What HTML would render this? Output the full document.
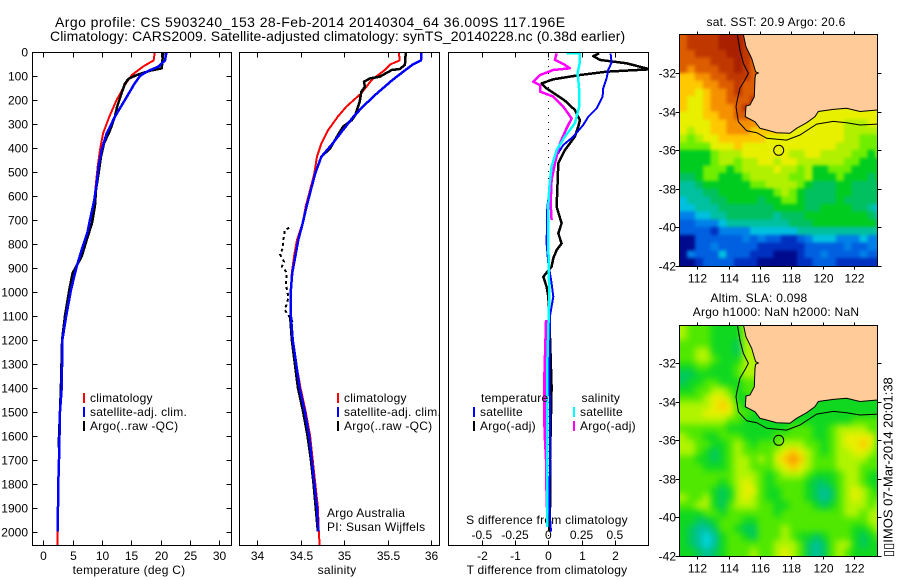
<!DOCTYPE html>
<html>
<head>
<meta charset="utf-8">
<title>Argo profile</title>
<style>
html,body{margin:0;padding:0;background:#fff;}
svg{display:block;font-family:"Liberation Sans",sans-serif;font-size:12px;fill:#000;}
.ls{letter-spacing:.25px;}
</style>
</head>
<body>
<svg id="chart" xmlns="http://www.w3.org/2000/svg" width="900" height="580" viewBox="0 0 900 580">
<defs>
<clipPath id="clip-t"><rect x="32.5" y="52" width="199" height="493"/></clipPath>
<clipPath id="clip-s"><rect x="239.5" y="52" width="200" height="493"/></clipPath>
<clipPath id="clip-d"><rect x="448.5" y="52" width="200" height="493"/></clipPath>
<clipPath id="clip-m1"><rect x="679.5" y="34.5" width="198" height="232"/></clipPath>
<clipPath id="clip-m2"><rect x="679.5" y="325" width="198" height="232"/></clipPath>
<filter id="soft-sst" filterUnits="userSpaceOnUse" x="660" y="20" width="240" height="260" color-interpolation-filters="sRGB">
<feGaussianBlur stdDeviation="1.5"/>
<feComponentTransfer><feFuncA type="linear" slope="100"/></feComponentTransfer>
</filter>
<filter id="soft-sla" filterUnits="userSpaceOnUse" x="660" y="310" width="240" height="260" color-interpolation-filters="sRGB">
<feGaussianBlur stdDeviation="3.5"/>
<feComponentTransfer><feFuncA type="linear" slope="100"/></feComponentTransfer>
</filter>
</defs>
<text x="55" y="27" font-size="14" style="letter-spacing:.43px">Argo profile: CS 5903240_153 28-Feb-2014 20140304_64 36.009S 117.196E</text>
<text x="50" y="41" font-size="14" style="letter-spacing:.09px">Climatology: CARS2009. Satellite-adjusted climatology: synTS_20140228.nc (0.38d earlier)</text>
<text class="ls" x="129" y="574" text-anchor="middle">temperature (deg C)</text>
<text class="ls" x="337" y="574" text-anchor="middle">salinity</text>
<text class="ls" x="547" y="574" text-anchor="middle">T difference from climatology</text>
<text class="ls" x="547" y="524" text-anchor="middle">S difference from climatology</text>
<text class="ls" x="327" y="517">Argo Australia</text>
<text class="ls" x="327" y="531">PI: Susan Wijffels</text>
<text class="ls" x="776" y="26" text-anchor="middle">sat. SST: 20.9 Argo: 20.6</text>
<text class="ls" x="759" y="302" text-anchor="middle">Altim. SLA: 0.098</text>
<text class="ls" x="776" y="316" text-anchor="middle">Argo h1000: NaN h2000: NaN</text>
<text font-size="13" transform="translate(892.5,557) rotate(-90)">▯▯IMOS 07-Mar-2014 20:01:38</text>
</svg>
<script>
// ---------- profile data ----------
const depthTicks=[0,100,200,300,400,500,600,700,800,900,1000,1100,1200,1300,1400,1500,1600,1700,1800,1900,2000];
const tempTicks=[0,5,10,15,20,25,30];
const salTicks=[34,34.5,35,35.5,36];
const salTickLabels=['34','34.5','35','35.5','36'];
const tDiffTicks=[-2,-1,0,1,2];
const sDiffTicks=[-0.5,-0.25,0,0.25,0.5];
const sDiffTickLabels=['-0.5','-0.25','0','0.25','0.5'];

const tempClimDepth=[0,35,61,96,130,200,270,339,408,478,547,617,686,755,825,894,964,992,1100,1200,1400,1500,1700,1800,2000,2055];
const tempClim=[19.0,18.8,17.0,15.1,14.1,12.5,11.25,10.2,9.66,9.27,8.98,8.7,8.08,7.5,6.55,5.7,5.0,4.72,3.9,3.25,3.13,2.85,2.68,2.56,2.42,2.39];
const tempSatDepth=[0,35,61,82,100,130,200,270,339,408,478,547,617,686,755,825,894,964,992,1100,1200,1400,1500,1700,1800,2000];
const tempSat=[21.0,20.75,19.6,17.6,16.5,15.6,13.9,12.2,10.8,9.95,9.4,9.1,8.7,8.08,7.5,6.55,5.7,5.0,4.72,3.9,3.25,3.13,2.85,2.68,2.56,2.45];
const tempArgoDepth=[0,35,68,78,96,112,132,172,227,269,325,381,436,505,575,644,714,783,853,922,992,1100,1200,1400,1650];
const tempArgo=[20.45,20.3,20.2,18.2,15.9,14.5,13.9,13.35,12.6,12.2,11.4,10.35,9.83,9.43,8.98,8.8,8.3,7.4,6.55,5.0,4.43,3.7,3.2,3.0,2.6];

const salClimDepth=[0,35,52,75,116,172,227,269,325,381,436,505,575,644,714,783,853,922,992,1100,1200,1300,1400,1500,1600,1700,1800,1900,2000,2055];
const salClim=[35.63,35.64,35.53,35.47,35.32,35.2,35.03,34.93,34.82,34.74,34.69,34.66,34.61,34.56,34.525,34.46,34.425,34.4,34.39,34.39,34.41,34.45,34.5,34.56,34.61,34.64,34.67,34.70,34.71,34.72];
const salSatDepth=[0,35,52,82,116,172,227,269,325,381,436,505,575,644,714,783,853,922,992,1100,1200,1300,1400,1500,1600,1700,1800,1900,2000];
const salSat=[35.89,35.885,35.79,35.68,35.56,35.38,35.22,35.11,34.99,34.87,34.74,34.67,34.62,34.57,34.525,34.475,34.44,34.405,34.39,34.39,34.41,34.45,34.49,34.55,34.6,34.63,34.66,34.69,34.705];
const salArgoDepth=[1,54,71,75,103,110,124,145,165,207,263,284,311,346,402,436,505,575,644,714];
const salArgo=[35.71,35.70,35.64,35.55,35.41,35.30,35.23,35.24,35.2,35.18,35.13,35.09,34.99,34.93,34.84,34.74,34.67,34.62,34.57,34.525];
const salArgoQcDepth=[733,742,770,791,815,844,860,874,895,916,944,971,999,1027,1076,1125];
const salArgoQc=[34.37,34.32,34.31,34.295,34.30,34.265,34.285,34.31,34.285,34.335,34.34,34.33,34.35,34.36,34.32,34.41];
const salArgoDeepDepth=[1100,1200,1400,1500,1600,1700,1800,1900,2000];
const salArgoDeep=[34.38,34.4,34.47,34.53,34.58,34.62,34.65,34.675,34.7];

const dTSatDepth=[6,44,75,110,152,186,235,270,304,353,388,443,506,562,645,798,881,965,1020,1100,1300,1500,1700,1900,2000];
const dTSat=[1.87,1.90,1.80,1.75,1.65,1.63,1.45,1.20,1.05,0.75,0.45,0.20,0.13,0.05,-0.03,-0.05,0,0.10,0.15,0.05,0.03,0.05,0.05,0.03,0.08];
const dTArgoDepth=[6,17,33,47,72,82,96,114,131,152,170,203,242,284,311,353,409,464,575,645,714,756,798,826,860,895,937,979,1020,1100,1400,1700,1900,2000];
const dTArgo=[1.53,1.35,1.55,2.35,3.05,1.75,0.95,0.15,-0.2,-0.05,0.15,0.5,0.8,0.95,0.9,0.8,0.5,0.3,0.27,0.25,0.4,0.3,0.4,0.25,0.15,0.1,-0.15,-0.05,0,0.03,0.1,0.05,0.05,0.03];
const dSSatDepth=[6,6,40,89,158,228,297,353,409,478,562,645,798,1020,1300,1600,1980];
const dSSat=[0.1375,0.2375,0.2375,0.22,0.2325,0.2325,0.2,0.125,0.0625,0.025,0.0075,0,0,0.0075,-0.0075,-0.0075,-0.0075];
const dSArgoDepth=[6,33,54,68,75,96,124,138,165,186,228,277,318,381,464,534,631,700];
const dSArgo=[0.0625,0.05,0.125,0.1625,0.0375,-0.0625,-0.1125,-0.0625,-0.0625,0.0375,0.1125,0.175,0.1375,0.0875,0.05,0.025,0.0175,0.025];
const dSArgoDeepDepth=[1118,1300,1400,1500,1600,1700,1900];
const dSArgoDeep=[-0.015,-0.025,-0.03,-0.03,-0.025,-0.015,-0.01];

// ---------- map data ----------
const lonTicks=[112,114,116,118,120,122];
const latTicks=[-32,-34,-36,-38,-40,-42];
const coastLon=[114.94,115.1,115.47,115.72,115.89,115.72,115.68,115.64,115.36,115.11,115.06,115.68,116.0,116.43,117.06,117.91,118.34,118.98,119.51,119.72,120.68,121.53,122.38,123.49];
const coastLat=[-30.0,-30.63,-31.24,-31.93,-32.0,-32.07,-32.28,-33.23,-33.66,-33.71,-34.27,-34.53,-34.87,-34.96,-35.1,-35.13,-34.87,-34.58,-34.27,-34.0,-33.89,-33.83,-34.0,-33.92];
const isobathLon=[114.55,114.72,114.94,115.26,115.04,114.72,114.55,114.47,114.62,115.15,115.79,116.43,117.7,118.55,119.62,120.68,121.53,122.38,123.49];
const isobathLat=[-30,-30.81,-31.5,-32.02,-32.36,-32.8,-33.4,-33.75,-34.53,-35.0,-35.1,-35.39,-35.48,-35.22,-34.65,-34.51,-34.58,-34.7,-34.65];
const floatLon=[117.196];
const floatLat=[-36.009];
const sstLevels=[
[13,14,14,14,14,15,15,15,14,14],
[13,14,14,14,14,15,15,15,14,14],
[13,13,14,14,14,14,15,15,14,14],
[13,13,13,13,14,14,14,15,14,13],
[13,12,13,13,13,14,14,15,14,13],
[11,11,12,12,13,13,14,14,14,13],
[11,11,11,12,12,13,13,14,13,13],
[11,11,10,11,12,12,13,14,13,13],
[11,10,10,11,12,12,13,13,13,14],
[11,10,10,11,12,12,12,13,14,14,10,10,10,10,10,10,10,10,10,10,10,10,10,10,10,10],
[10,10,10,11,11,12,12,13,13,12,12,11,11,11,10,10,10,10,10,10,10,10,10,10,10,10],
[10,10,10,10,11,11,12,12,12,12,11,11,11,10,10,10,10,10,10,10,10,9,9,9,10,10],
[10,9,10,10,11,11,12,12,12,11,11,11,11,10,10,10,10,10,10,10,10,9,9,9,9,9],
[9,8,9,10,10,11,11,11,11,11,11,10,10,10,10,10,10,10,10,10,10,9,9,8,8,8],
[8,8,8,8,10,10,10,11,10,10,10,10,10,10,10,10,10,10,10,10,9,9,9,8,8,8],
[7,7,7,7,8,9,9,9,10,10,10,10,10,10,9,9,10,10,9,9,9,9,8,8,7,8],
[7,7,7,7,8,9,9,8,9,9,10,10,9,10,10,9,9,9,9,9,9,8,8,7,7,7],
[7,7,7,8,8,8,7,8,9,9,9,9,10,9,9,8,9,7,7,8,8,8,7,7,7,7],
[6,6,7,8,8,7,7,7,8,9,9,9,9,9,8,8,9,7,7,7,8,7,7,7,6,7],
[5,5,6,7,7,7,7,7,7,8,8,9,9,9,9,8,7,6,6,6,7,7,6,6,6,6],
[5,5,5,6,6,7,7,7,7,7,7,7,8,9,8,7,6,6,6,6,7,7,6,6,6,6],
[4,5,5,5,6,6,7,7,7,7,6,7,7,8,8,7,6,6,6,6,7,6,6,6,6,6],
[4,4,5,5,5,6,6,6,6,6,6,6,7,7,7,7,6,6,7,7,7,7,6,6,5,4],
[3,3,4,4,5,5,6,6,6,6,6,6,5,6,6,6,7,7,7,7,7,7,7,7,6,5],
[2,2,3,3,3,4,5,5,5,5,5,5,5,5,6,6,6,7,7,7,7,7,7,7,7,6],
[2,2,2,2,1,3,3,3,3,4,4,4,4,4,4,5,5,5,5,5,5,5,5,5,5,5],
[0,0,2,2,2,2,2,2,3,2,3,2,2,1,1,2,3,4,4,4,3,3,3,4,3,3],
[0,0,2,2,3,2,2,2,2,2,1,1,1,1,1,1,2,2,2,2,2,3,2,2,3,3],
[0,3,2,2,2,4,2,2,2,1,1,1,0,0,0,1,2,2,3,2,2,2,2,3,2,2],
[0,0,1,2,2,2,2,1,1,1,0,0,0,0,0,1,1,2,2,2,1,1,1,1,1,1]
];
const slaLevels=[
[9,8,8,8,7,7,7,7,9,9],
[9,8,8,8,7,7,7,7,9,9],
[8,8,8,8,7,7,7,6,9,9],
[8,8,9,9,7,7,7,6,9,9],
[8,8,9,9,8,7,7,7,9,9],
[7,7,8,8,7,7,7,8,9,9],
[6,6,7,7,7,7,7,8,9,9],
[6,7,7,8,8,7,7,7,8,8],
[7,7,8,8,9,9,8,7,8,8],
[8,8,8,9,10,10,9,7,7,8,7,7,7,7,7,7,7,7,7,7,7,7,7,7,7,7],
[9,9,9,9,10,11,10,8,7,8,7,7,7,7,7,7,7,7,7,7,7,7,7,7,7,7],
[9,9,9,10,10,10,10,8,8,7,7,7,7,7,7,7,7,7,7,7,7,7,7,7,7,7],
[9,9,9,9,9,9,8,8,7,7,7,7,7,7,7,7,7,7,7,7,7,7,8,8,8,8],
[8,8,8,8,8,8,7,7,7,7,7,7,7,7,8,8,8,7,7,8,9,9,9,9,8,8],
[9,8,8,7,7,8,8,8,7,7,7,7,8,8,8,8,8,7,7,8,9,10,10,10,10,8],
[9,9,8,8,7,7,8,9,8,7,8,8,8,9,9,9,8,8,7,8,9,10,10,11,10,8],
[9,9,8,7,6,7,8,9,8,8,8,8,9,10,11,10,9,8,7,8,9,9,10,10,9,8],
[8,8,7,7,6,7,8,9,9,8,9,8,10,11,12,11,9,8,8,8,9,9,9,9,8,8],
[8,8,8,7,7,7,8,9,9,8,8,8,9,10,11,10,9,8,8,8,9,9,9,8,8,8],
[8,8,8,8,8,8,8,9,9,9,8,7,8,9,9,9,8,7,7,7,8,9,9,8,7,7],
[8,8,8,8,8,7,8,9,10,9,8,7,8,8,8,8,7,6,6,7,8,9,9,8,7,7],
[8,8,8,8,7,6,7,9,10,10,8,7,7,8,8,8,7,6,5,6,8,9,10,9,8,7],
[9,8,8,9,7,6,7,9,10,9,8,7,7,8,8,8,7,6,5,6,8,9,10,9,8,8],
[8,8,9,9,7,6,8,9,9,9,8,8,7,7,8,8,8,7,6,7,8,9,9,9,8,9],
[7,7,7,8,8,7,8,8,8,8,8,8,7,8,8,8,8,8,8,8,8,9,9,8,9,9],
[7,7,6,6,7,8,8,8,7,7,8,8,8,8,8,8,8,8,8,8,8,8,8,8,9,9],
[7,6,5,5,6,8,8,7,6,6,8,8,8,9,8,8,8,8,8,8,8,8,7,7,8,9],
[7,6,5,4,5,7,8,8,7,6,8,8,8,9,8,7,7,6,7,8,8,8,7,6,7,8],
[7,6,5,4,5,7,8,8,8,8,8,8,9,9,9,8,6,5,6,8,9,9,7,6,7,7],
[7,7,6,5,6,7,8,8,8,9,8,8,9,10,9,8,6,5,6,8,9,8,7,7,7,7]
];
const sstColors=['#000a8c','#0030c0','#0060e0','#0080e8','#00c0e0','#00c0a0','#00c060','#00cc20','#70ee00','#b0f000','#e8f000','#ffc800','#f59000','#dc5c00','#c03800','#a82000'];
const slaColors=['#000a8c','#0030c0','#0060e0','#0080e8','#00d8e0','#00c0a0','#00c860','#10d820','#50e800','#b0f400','#e8f000','#ffc800','#f59000','#dc5c00','#c03800','#a82000'];

// ---------- axis functions ----------
const NS='http://www.w3.org/2000/svg';
const svg=document.getElementById('chart');
const yD=d=>52+0.2398*d;
const xT=v=>43.3+5.867*v;
const xS=v=>257+87*(v-34);
const xDT=v=>548.3+33.3*v;
const xDS=v=>548.3+133*v;
const xLon=l=>697.3+15.67*(l-112);
const yLat=(l,y32)=>y32+19.27*(-32-l);

function mk(tag,attrs,parent){
  const el=document.createElementNS(NS,tag);
  for(const k in attrs) el.setAttribute(k,attrs[k]);
  (parent||svg).appendChild(el);
  return el;
}
function txt(s,x,y,anchor,parent){
  const el=mk('text',{x:x,y:y,'text-anchor':anchor||'start'},parent);
  el.textContent=s;
  return el;
}
function line(xs,depths,fx,color,width,name,parent,dash){
  const pts=xs.map((v,i)=>fx(v).toFixed(1)+','+yD(depths[i]).toFixed(1)).join(' ');
  const el=mk('polyline',{points:pts,fill:'none',stroke:color,'stroke-width':width,'stroke-linejoin':'round','shape-rendering':'crispEdges'},parent);
  if(dash) el.setAttribute('stroke-dasharray',dash);
  
  
  return el;
}
function frame(x,y,w,h,name){
  const el=mk('rect',{x:x,y:y,width:w,height:h,fill:'none',stroke:'#000','stroke-width':1,'shape-rendering':'crispEdges'});
  
  
}
function tick(x1,y1,x2,y2,name){
  const el=mk('line',{x1:x1,y1:y1,x2:x2,y2:y2,stroke:'#000','stroke-width':1,'shape-rendering':'crispEdges'});
  
  
}
function panelGroup(clip,name){
  const g=mk('g',{'clip-path':'url(#'+clip+')'});
  
  
  return g;
}
function legendEntry(x,y,color,label,name){
  const bar=mk('rect',{x:x,y:y,width:2,height:10,fill:color,'shape-rendering':'crispEdges'});
  
  
  const t=txt(label,x+7,y+9);
  t.setAttribute('class','ls');
  
  
}

// ---------- temperature panel ----------
const gT=panelGroup('clip-t','temperature-plot-area');
line(tempClim,tempClimDepth,xT,'#ff0000',2,'temperature-climatology-line',gT);
line(tempArgo,tempArgoDepth,xT,'#000000',2.5,'temperature-argo-line',gT);
line(tempSat,tempSatDepth,xT,'#0000ff',2.5,'temperature-satellite-line',gT);
frame(32.5,52.5,199,493,'temperature-panel-frame');
depthTicks.forEach(d=>{
  const y=Math.round(yD(d))+0.5;
  tick(32.5,y,37.5,y,'depth-tick-left');
  tick(226.5,y,231.5,y,'depth-tick-right');
  const t=txt(String(d),28,y+4,'end');
  
  
});
tempTicks.forEach(v=>{
  const x=Math.round(xT(v))+0.5;
  tick(x,52.5,x,57.5,'temperature-tick-top');
  tick(x,540.5,x,545.5,'temperature-tick-bottom');
  const t=txt(String(v),x,560,'middle');
  
  
});
legendEntry(83,393,'#ff0000','climatology','temperature-legend-climatology');
legendEntry(83,407,'#0000ff','satellite-adj. clim.','temperature-legend-satellite');
legendEntry(83,421,'#000000','Argo(..raw -QC)','temperature-legend-argo');

// ---------- salinity panel ----------
const gS=panelGroup('clip-s','salinity-plot-area');
line(salClim,salClimDepth,xS,'#ff0000',2,'salinity-climatology-line',gS);
line(salArgo,salArgoDepth,xS,'#000000',2.5,'salinity-argo-line',gS);
line(salArgoQc,salArgoQcDepth,xS,'#000000',2,'salinity-argo-qc-points',gS,'3 3');
line(salArgoDeep,salArgoDeepDepth,xS,'#000000',2.5,'salinity-argo-deep-line',gS);
line(salSat,salSatDepth,xS,'#0000ff',2.5,'salinity-satellite-line',gS);
frame(239.5,52.5,200,493,'salinity-panel-frame');
salTicks.forEach((v,i)=>{
  const x=Math.round(xS(v))+0.5;
  tick(x,52.5,x,57.5,'salinity-tick-top');
  tick(x,540.5,x,545.5,'salinity-tick-bottom');
  const t=txt(salTickLabels[i],x,560,'middle');
  
  
});
legendEntry(337,393,'#ff0000','climatology','salinity-legend-climatology');
legendEntry(337,407,'#0000ff','satellite-adj. clim.','salinity-legend-satellite');
legendEntry(337,421,'#000000','Argo(..raw -QC)','salinity-legend-argo');

// ---------- difference panel ----------
const gD=panelGroup('clip-d','difference-plot-area');
const zeroLine=mk('line',{x1:xDT(0),y1:52,x2:xDT(0),y2:545,stroke:'#000','stroke-width':1,'stroke-dasharray':'1 6','shape-rendering':'crispEdges'},gD);


line(dTArgo,dTArgoDepth,xDT,'#000000',2.5,'t-difference-argo-line',gD);
line(dTSat,dTSatDepth,xDT,'#0000ff',2,'t-difference-satellite-line',gD);
line(dSArgo,dSArgoDepth,xDS,'#ff00ff',2.5,'s-difference-argo-line',gD);
line(dSArgoDeep,dSArgoDeepDepth,xDS,'#ff00ff',3,'s-difference-argo-deep-line',gD);
line(dSSat,dSSatDepth,xDS,'#00ffff',2.5,'s-difference-satellite-line',gD);
frame(448.5,52.5,200,493,'difference-panel-frame');
tDiffTicks.forEach(v=>{
  const x=Math.round(xDT(v))+0.5;
  tick(x,52.5,x,57.5,'t-difference-tick-top');
  tick(x,540.5,x,545.5,'t-difference-tick-bottom');
  const t=txt(String(v),x,560,'middle');
  
  
});
sDiffTicks.forEach((v,i)=>{
  const t=txt(sDiffTickLabels[i],xDS(v),539,'middle');
  
  
});
const tHead=txt('temperature',481,402);
tHead.setAttribute('class','ls');


const sHead=txt('salinity',581.5,402);
sHead.setAttribute('class','ls');


legendEntry(473,407,'#0000ff','satellite','t-difference-legend-satellite');
legendEntry(473,421,'#000000','Argo(-adj)','t-difference-legend-argo');
legendEntry(573,407,'#00ffff','satellite','s-difference-legend-satellite');
legendEntry(573,421,'#ff00ff','Argo(-adj)','s-difference-legend-argo');

// ---------- maps ----------
function drawMap(levels,colors,softFilter,clip,top,bottom,y32,name){
  const g=panelGroup(clip,name+'-area');
  const cells=mk('g',{filter:'url(#'+softFilter+')'},g);
  
  
  levels.forEach((row,k)=>{
    row.forEach((lv,i)=>{
      const lon0=110.85+0.5*i, lat0=-30+(-0.4*k);
      const x=xLon(lon0), y=yLat(lat0,y32);
      const c=mk('rect',{x:x.toFixed(2),y:y.toFixed(2),width:(xLon(lon0+0.5)-x+0.5).toFixed(2),height:(yLat(lat0-0.4,y32)-y+0.5).toFixed(2),fill:colors[lv],'shape-rendering':'crispEdges'},cells);
      
      
    });
  });
  const px=(lons,lats)=>lons.map((l,i)=>xLon(l).toFixed(1)+','+yLat(lats[i],y32).toFixed(1)).join(' ');
  const land=mk('polygon',{points:px(coastLon,coastLat)+' '+xLon(124).toFixed(1)+','+yLat(-33.92,y32).toFixed(1)+' '+xLon(124).toFixed(1)+','+yLat(-29,y32).toFixed(1)+' '+xLon(114.94).toFixed(1)+','+yLat(-29,y32).toFixed(1),fill:'#ffcc99',stroke:'#000','stroke-width':1},g);
  
  
  const iso=mk('polyline',{points:px(isobathLon,isobathLat),fill:'none',stroke:'#000','stroke-width':1},g);
  
  
  const dot=mk('circle',{cx:xLon(floatLon[0]).toFixed(1),cy:yLat(floatLat[0],y32).toFixed(1),r:5,fill:'none',stroke:'#000','stroke-width':1},g);
  
  
  frame(679.5,top,198,bottom-top,name+'-frame');
  lonTicks.forEach(l=>{
    const x=Math.round(xLon(l))+0.5;
    tick(x,top-3,x,top,name+'-lon-tick-top');
    tick(x,bottom,x,bottom+3,name+'-lon-tick-bottom');
    const t=txt(String(l),x,bottom+16,'middle');
    
    
  });
  latTicks.forEach(l=>{
    const y=Math.round(yLat(l,y32))+0.5;
    tick(675.5,y,679.5,y,name+'-lat-tick-left');
    tick(877.5,y,881.5,y,name+'-lat-tick-right');
    const t=txt(String(l),676,y+4,'end');
    
    
  });
}
drawMap(sstLevels,sstColors,'soft-sst','clip-m1',34.5,266.5,73,'sst-map');
drawMap(slaLevels,slaColors,'soft-sla','clip-m2',325.5,556.5,363,'sla-map');
</script>
</body>
</html>
